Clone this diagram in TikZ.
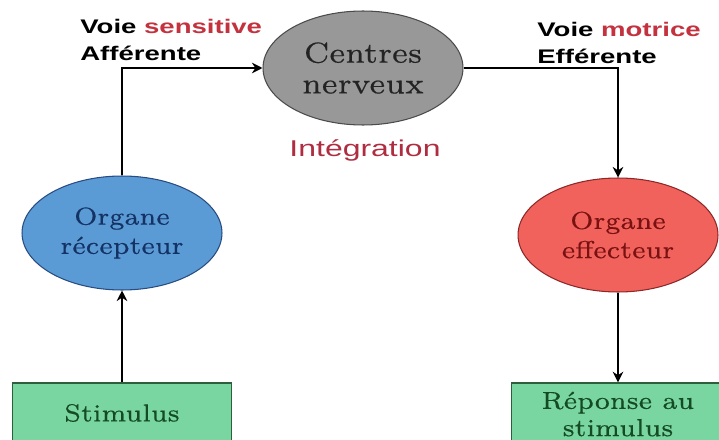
\documentclass[tikz,border=0pt]{standalone}
\usepackage{fontspec}
\usetikzlibrary{arrows.meta,shapes.geometric}
\setmainfont{lmroman7-regular.otf}[FakeStretch=1.08,FakeBold=0.4]
\newfontfamily\arialfont{Liberation Sans}[FakeStretch=1.4]
\definecolor{rougetxt}{RGB}{195,50,62}
\definecolor{rougeinteg}{RGB}{175,45,65}
\definecolor{bleufond}{RGB}{91,155,213}
\definecolor{bleubord}{RGB}{40,75,130}
\definecolor{bleutxt}{RGB}{20,50,100}
\definecolor{rougefond}{RGB}{242,98,92}
\definecolor{rougebord}{RGB}{140,40,40}
\definecolor{rougeorg}{RGB}{120,18,18}
\definecolor{grisfond}{RGB}{152,152,152}
\definecolor{grisbord}{RGB}{75,75,75}
\definecolor{gristxt}{RGB}{35,35,35}
\definecolor{vertfond}{RGB}{122,214,160}
\definecolor{vertbord}{RGB}{45,95,60}
\definecolor{verttxt}{RGB}{20,75,35}
\begin{document}
\begin{tikzpicture}[x=0.02cm,y=-0.02cm,
  organe/.style={ellipse,draw=#1,line width=0.6pt,minimum width=4cm,minimum height=2.28cm,
    align=center,font=\fontsize{14}{16.6}\selectfont,inner sep=0pt},
  boite/.style={rectangle,draw=vertbord,fill=vertfond,line width=0.8pt,text=verttxt,
    align=center,font=\fontsize{14}{15.5}\selectfont,inner sep=0pt},
  voie/.style={anchor=west,align=left,font=\arialfont\bfseries\fontsize{11.2}{15.3}\selectfont,inner sep=0pt},
  fleche/.style={line width=1.1pt,-{Stealth[length=6pt,width=6pt]}}]
\useasboundingbox (0,0) rectangle (719,439);
\clip (0,0) rectangle (719,439);
\node[organe=grisbord,fill=grisfond,text=gristxt,font=\fontsize{16.5}{17.5}\selectfont] (centres) at (363,68) {Centres\\nerveux};
\node[organe=bleubord,fill=bleufond,text=bleutxt] (recep) at (122,233) {Organe\\récepteur};
\node[organe=rougebord,fill=rougefond,text=rougeorg] (effect) at (618,235) {Organe\\effecteur};
\node[boite,minimum width=4.38cm,minimum height=1.2cm] (stim) at (122,413) {Stimulus};
\node[boite,minimum width=4.26cm,minimum height=1.24cm] (reponse) at (618,414) {Réponse au\\stimulus};
\node[voie] (sens) at (80,40) {Voie \textcolor{rougetxt}{sensitive}\\Afférente};
\node[voie] (motr) at (537,43) {Voie \textcolor{rougetxt}{motrice}\\Efférente};
\node[text=rougeinteg,font=\arialfont\fontsize{13}{15}\selectfont] (integ) at (365,150) {Intégration};
\draw[fleche] (stim) -- (recep);
\draw[fleche] (recep.north) |- (centres.west);
\draw[fleche] (centres.east) -| (effect.north);
\draw[fleche] (effect) -- (reponse);
\end{tikzpicture}
\end{document}
